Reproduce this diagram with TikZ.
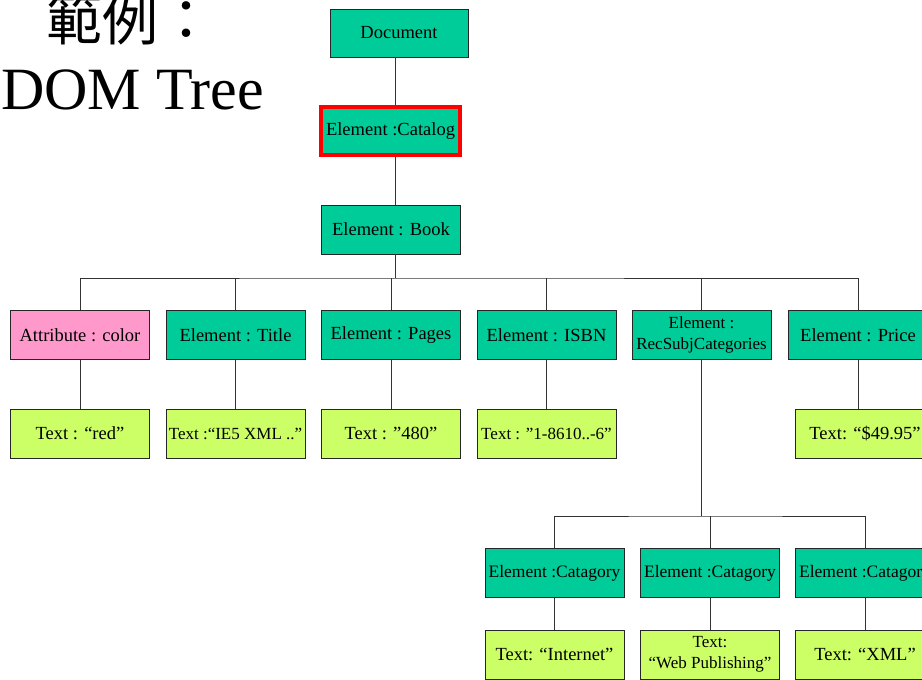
\documentclass[tikz,border=0pt]{standalone}
\usepackage{fontspec}
\setmainfont{Liberation Serif}
\newfontfamily\cjk{Noto Sans CJK TC}
\usepackage{tikz}
\usetikzlibrary{positioning}
\definecolor{elemGreen}{HTML}{00CC99}
\definecolor{attrPink}{HTML}{FF99CC}
\definecolor{textLime}{HTML}{CCFF66}

\begin{document}
\begin{tikzpicture}[x=1pt, y=-1pt,
    treeBox/.style={rectangle, draw=black!85, line width=0.8pt, minimum width=139pt, minimum height=49pt, inner sep=0pt, align=center, font=\fontsize{18.5}{19}\selectfont},
    elemBox/.style={treeBox, fill=elemGreen},
    attrBox/.style={treeBox, fill=attrPink},
    valBox/.style={treeBox, fill=textLime},
    smallText/.style={font=\fontsize{17}{21}\selectfont},
    treeLine/.style={draw=black!80, line width=0.8pt}
]
    \clip (0,0) rectangle (922,680);
    \useasboundingbox (0,0) rectangle (922,680);

    % title
    \node[anchor=base west, inner sep=0pt, font=\cjk\fontsize{56}{56}\selectfont] (titleZh) at (46,40) {範例：};
    \node[anchor=base west, inner sep=0pt, font=\fontsize{60}{60}\selectfont] (titleEn) at (1,109) {DOM Tree};

    % upper spine
    \node[elemBox, minimum width=138pt, minimum height=48pt] (doc) at (399,33) {Document};
    \node[elemBox, draw=red, line width=4pt, minimum height=48pt] (catalog) at (390.5,131) {Element :Catalog};
    \node[elemBox] (book) at (391,229.5) {Element : Book};
    \coordinate (spine) at (395,0);

    % children of Book
    \node[attrBox] (color) at (80,335) {Attribute : color};
    \node[elemBox] (title) at (235.5,335) {Element : Title};
    \node[elemBox] (pages) at (391,335) {Element : Pages};
    \node[elemBox] (isbn) at (546.5,335) {Element : ISBN};
    \node[elemBox, smallText] (subj) at (701.5,335) {Element :\\RecSubjCategories};
    \node[elemBox] (price) at (858,335) {Element : Price};

    % text values
    \node[valBox] (colorVal) at (80,433.5) {Text : “red”};
    \node[valBox, smallText] (titleVal) at (235.5,433.5) {Text :“IE5 XML ..”};
    \node[valBox] (pagesVal) at (391,433.5) {Text : ”480”};
    \node[valBox, smallText] (isbnVal) at (546.5,433.5) {Text : ”1-8610..-6”};
    \node[valBox] (priceVal) at (865,433.5) {Text: “\$49.95”};

    % categories
    \node[elemBox, font=\fontsize{17.5}{18}\selectfont] (cat1) at (554.5,573) {Element :Catagory};
    \node[elemBox, font=\fontsize{17.5}{18}\selectfont] (cat2) at (710,573) {Element :Catagory};
    \node[elemBox, font=\fontsize{17.5}{18}\selectfont] (cat3) at (865,573) {Element :Catagory};
    \node[valBox] (cat1Val) at (554.5,654.5) {Text: “Internet”};
    \node[valBox, smallText] (cat2Val) at (710,654.5) {Text:\\“Web Publishing”};
    \node[valBox] (cat3Val) at (865,654.5) {Text: “XML”};

    \coordinate (bookBus) at (395,278);
    \coordinate (subjBus) at (701.5,516);

    \draw[treeLine] (doc.south -| spine) -- (catalog.north -| spine);
    \draw[treeLine] (catalog.south -| spine) -- (book.north -| spine);
    \draw[treeLine] (book.south -| spine) -- (bookBus);
    \draw[treeLine] (color.north) |- (bookBus) -| (price.north);
    \draw[treeLine] (title.north) -- (title.north |- bookBus);
    \draw[treeLine] (pages.north) -- (pages.north |- bookBus);
    \draw[treeLine] (isbn.north) -- (isbn.north |- bookBus);
    \draw[treeLine] (subj.north) -- (subj.north |- bookBus);

    \draw[treeLine] (color) -- (colorVal);
    \draw[treeLine] (title) -- (titleVal);
    \draw[treeLine] (pages) -- (pagesVal);
    \draw[treeLine] (isbn) -- (isbnVal);
    \draw[treeLine] (price.south) -- (price.south |- priceVal.north);

    \draw[treeLine] (subj) -- (subjBus);
    \draw[treeLine] (cat1.north) |- (subjBus) -| (cat3.north);
    \draw[treeLine] (cat2.north) -- (cat2.north |- subjBus);
    \draw[treeLine] (cat1) -- (cat1Val);
    \draw[treeLine] (cat2) -- (cat2Val);
    \draw[treeLine] (cat3) -- (cat3Val);
\end{tikzpicture}
\end{document}
